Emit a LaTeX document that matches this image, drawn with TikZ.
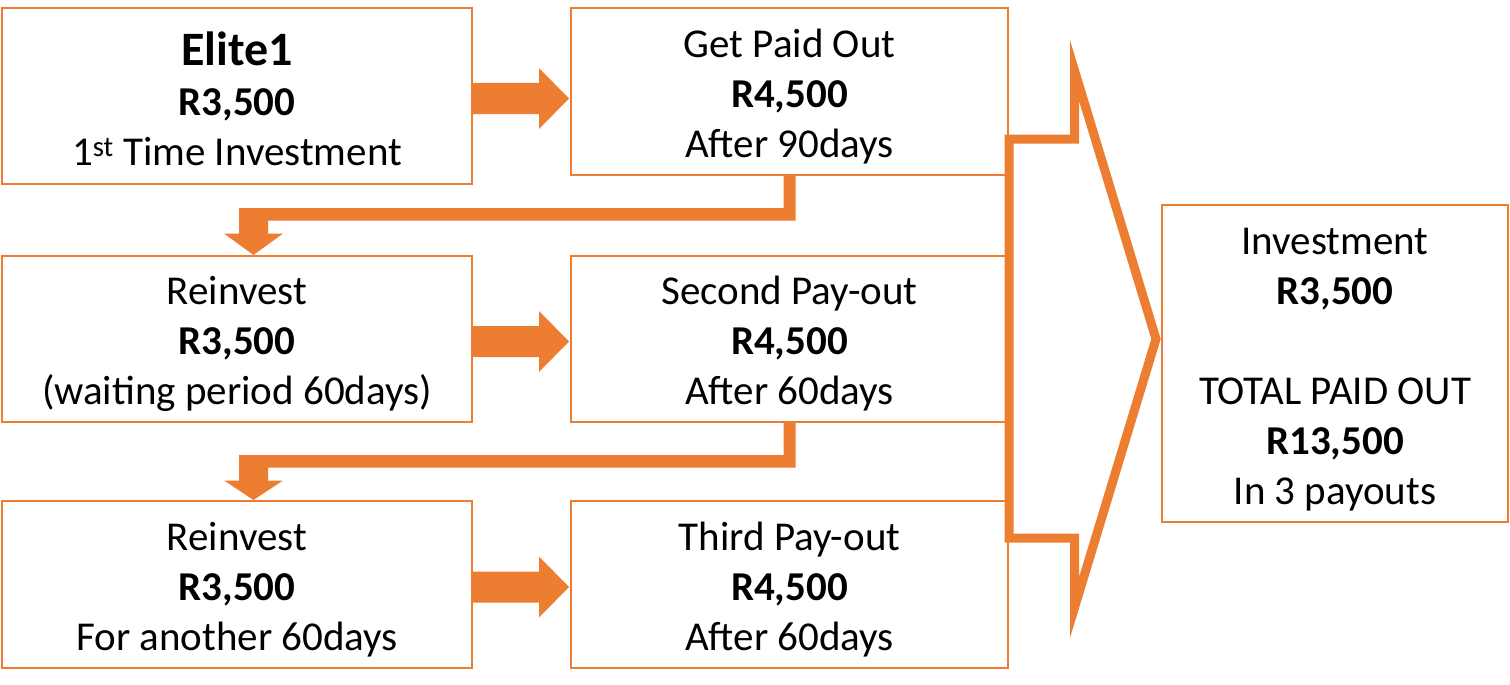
\documentclass[tikz,border=0pt]{standalone}
\usepackage{fontspec}
\setmainfont{Carlito}
\usepackage{tikz}
\usetikzlibrary{calc}

\definecolor{accent}{RGB}{237,125,49}

\tikzset{
  stage/.style={draw=accent, line width=2pt, inner sep=0pt, align=center,
    font=\fontsize{41}{50}\selectfont},
  flow/.style={fill=accent},
}
% extra room on the first text line
\newcommand{\topline}{\rule{0pt}{38pt}}

% right block arrow between two boxes of one row
\newcommand{\rightblock}[2]{%
  \path ($(#1.east)+(0,2.5)$) coordinate (rb-s);
  \path ($(#2.west |- rb-s)+(-1,0)$) coordinate (rb-t);
  \fill[flow] ($(rb-s)+(0,-15.5)$) -- ($(rb-t)+(-30,-15.5)$) -- ($(rb-t)+(-30,-30.5)$) -- (rb-t)
    -- ($(rb-t)+(-30,30.5)$) -- ($(rb-t)+(-30,15.5)$) -- ($(rb-s)+(0,15.5)$) -- cycle;
}
% bent arrow from a pay-out box down to the next row
\newcommand{\downblock}[2]{%
  \path (#1.south) coordinate (db-s);
  \path ($(#2.north)+(16.5,0)$) coordinate (db-t);
  \fill[flow] ($(db-s)+(-6,0)$) -- ($(db-s)+(6,0)$) -- ($(db-s)+(6,44.5)$)
    -- ($(db-t |- db-s)+(14.5,44.5)$) -- ($(db-t |- db-s)+(14.5,57.5)$) -- ($(db-t |- db-s)+(29.5,57.5)$)
    -- (db-t) -- ($(db-t |- db-s)+(-29.5,57.5)$) -- ($(db-t |- db-s)+(-14.5,57.5)$)
    -- ($(db-t |- db-s)+(-14.5,32)$) -- ($(db-s)+(-6,32)$) -- cycle;
}

\begin{document}
\begin{tikzpicture}[x=1pt,y=1pt,yscale=-1]
\useasboundingbox (0,0) rectangle (1510,685);

% big chevron
\draw[accent, line width=9pt, line join=miter] (1009,139) -- (1074.5,139) -- (1074.5,70.5) -- (1156,339)
  -- (1074.5,607.5) -- (1074.5,538) -- (1009,538) -- cycle;

% first row
\node[stage, minimum width=470pt, minimum height=176pt] (elite) at (237,96)
  {\rule{0pt}{40pt}{\fontsize{48}{54}\selectfont\textbf{Elite1}}\\ \textbf{R3,500}\\ 1\textsuperscript{st} Time Investment};
\node[stage, minimum width=437pt, minimum height=167pt] (paid) at (789.5,91.5)
  {\topline Get Paid Out\\ \textbf{R4,500}\\ After 90days};

% second row
\node[stage, minimum width=470pt, minimum height=166pt] (reinvest) at (237,339)
  {\topline Reinvest\\ \textbf{R3,500}\\ (waiting period 60days)};
\node[stage, minimum width=437pt, minimum height=166pt] (second) at (789.5,339)
  {\topline Second Pay-out\\ \textbf{R4,500}\\ After 60days};

% third row
\node[stage, minimum width=470pt, minimum height=167pt] (again) at (237,584.5)
  {\topline Reinvest\\ \textbf{R3,500}\\ For another 60days};
\node[stage, minimum width=437pt, minimum height=167pt] (third) at (789.5,584.5)
  {\topline Third Pay-out\\ \textbf{R4,500}\\ After 60days};

% total
\node[stage, minimum width=346pt, minimum height=317pt] (total) at (1335,363.5)
  {\topline Investment\\ \textbf{R3,500}\\[50pt] TOTAL PAID OUT\\ \textbf{R13,500}\\ In 3 payouts};

% arrows
\rightblock{elite}{paid}
\rightblock{reinvest}{second}
\rightblock{again}{third}
\downblock{paid}{reinvest}
\downblock{second}{again}

\end{tikzpicture}
\end{document}
